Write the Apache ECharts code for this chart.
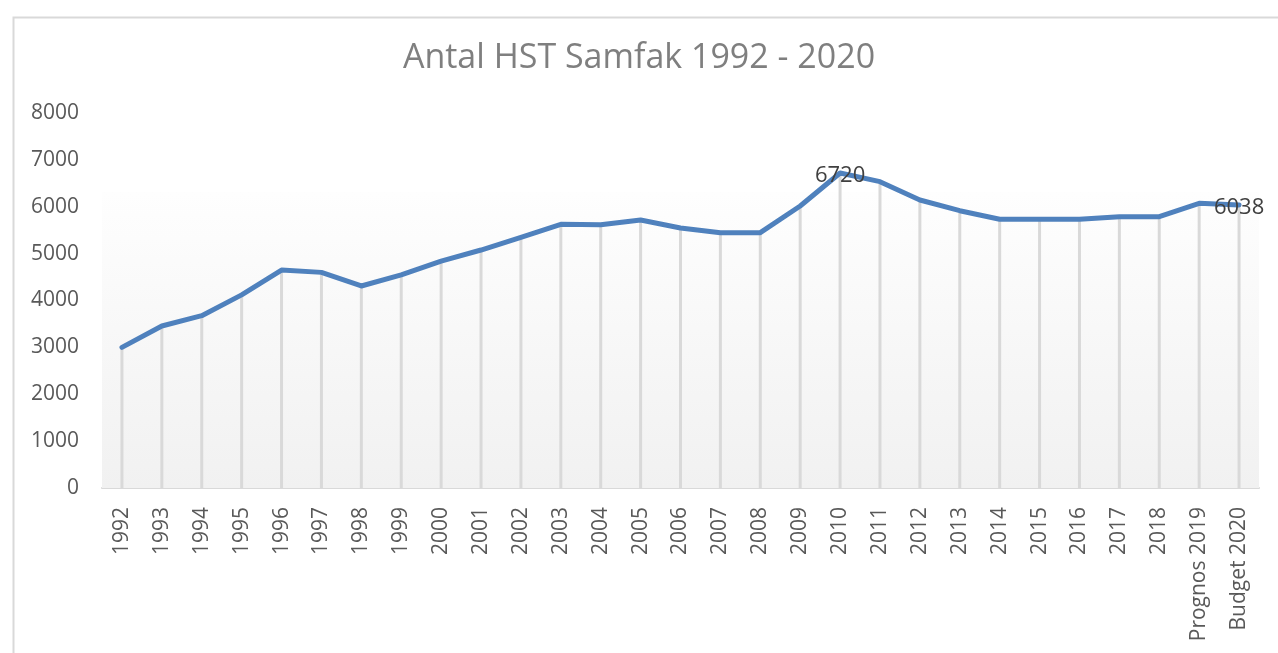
<!DOCTYPE html>
<html>
<head>
<meta charset="utf-8">
<script src="https://cdn.jsdelivr.net/npm/echarts@6/dist/echarts.min.js"></script>
<style>
html,body{margin:0;padding:0;background:#fff;}
#chart{width:1278px;height:653px;}
</style>
</head>
<body>
<div id="chart"></div>
<script>
const titleText = 'Antal HST Samfak 1992 - 2020';
const categories = ['1992','1993','1994','1995','1996','1997','1998','1999','2000','2001','2002','2003','2004','2005','2006','2007','2008','2009','2010','2011','2012','2013','2014','2015','2016','2017','2018','Prognos 2019','Budget 2020'];
const values = [3000,3456,3676,4120,4650,4600,4310,4545,4840,5077,5348,5625,5617,5717,5547,5447,5447,6016,6720,6535,6144,5916,5732,5732,5732,5788,5788,6073,6038];
const labeledIndices = [18, 28];
const yMin = 0, yMax = 8000, yStep = 1000;
const backgroundTop = 6315;

const chart = echarts.init(document.getElementById('chart'));
chart.setOption({
  backgroundColor: '#ffffff',
  animation: false,
  title: {
    text: titleText,
    left: 'center',
    top: 36,
    textStyle: {color: '#7f7f7f', fontSize: 34, fontWeight: 'normal', fontFamily: 'Open Sans'}
  },
  graphic: [{
    type: 'rect', left: 11, top: 15, z: -10,
    shape: {width: 1290, height: 660},
    style: {fill: 'none', stroke: '#d9d9d9', lineWidth: 2}
  }],
  grid: {left: 102, right: 19, top: 113, bottom: 165},
  xAxis: {
    type: 'category',
    data: categories,
    boundaryGap: true,
    axisLine: {lineStyle: {color: '#d9d9d9', width: 2}},
    axisTick: {show: false},
    axisLabel: {rotate: 90, margin: 19, color: '#595959', fontSize: 21, fontFamily: 'Open Sans', interval: 0}
  },
  yAxis: {
    type: 'value',
    min: yMin, max: yMax, interval: yStep,
    splitLine: {show: false},
    axisLine: {show: false},
    axisTick: {show: false},
    axisLabel: {margin: 23, color: '#595959', fontSize: 21, fontFamily: 'Open Sans', formatter: v => String(v)}
  },
  series: [{
    type: 'bar',
    data: values,
    barWidth: 3,
    itemStyle: {color: '#d9d9d9'},
    silent: true,
    z: 1,
    markArea: {
      silent: true,
      itemStyle: {
        color: {type: 'linear', x: 0, y: 0, x2: 0, y2: 1,
          colorStops: [{offset: 0, color: '#fefefe'}, {offset: 1, color: '#f1f1f1'}]}
      },
      data: [[{yAxis: yMin}, {yAxis: backgroundTop}]]
    }
  }, {
    type: 'line',
    data: values,
    symbol: 'none',
    z: 3,
    lineStyle: {color: '#4f81bd', width: 5, cap: 'round', join: 'round'},
    markPoint: {
      symbol: 'circle',
      symbolSize: 1,
      silent: true,
      itemStyle: {color: 'rgba(0,0,0,0)'},
      label: {
        show: true,
        position: 'inside',
        offset: [0, 3],
        color: '#404040',
        fontSize: 22,
        fontFamily: 'Open Sans',
        formatter: p => String(p.value)
      },
      data: labeledIndices.map(i => ({coord: [categories[i], values[i]], value: values[i]}))
    }
  }]
});
</script>
</body>
</html>
